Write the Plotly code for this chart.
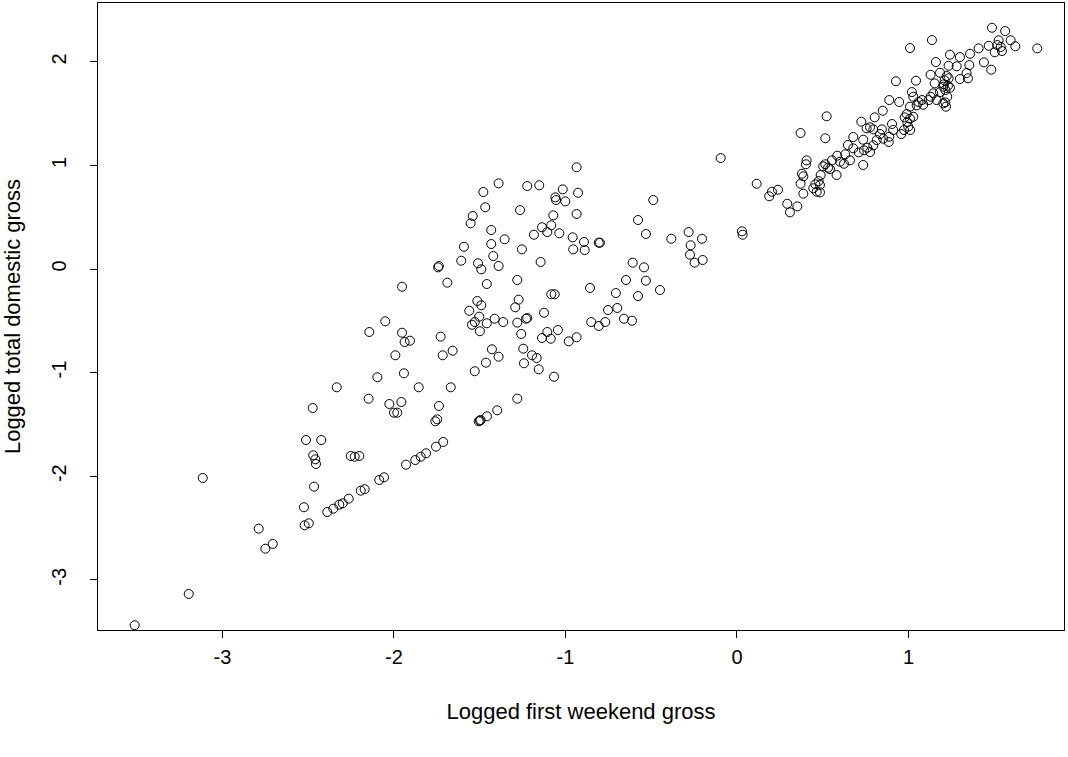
import plotly.graph_objects as go

first_weekend = [
    -3.512, -3.197, -3.115, -2.789, -2.750, -2.707, -2.525, -2.521, -2.497, -2.513,
    -2.424, -2.471, -2.459, -2.455, -2.466, -2.474, -2.334, -2.148, -2.027, -1.957,
    -2.000, -1.981, -1.856, -2.252, -2.229, -2.202, -1.930, -1.876, -1.844, -1.813,
    -2.389, -2.354, -2.319, -2.299, -2.264, -2.194, -2.171, -2.086, -2.058, -1.689,
    -1.953, -2.051, -2.144, -1.953, -1.938, -1.907, -1.728, -1.992, -1.716, -1.658,
    -2.097, -1.942, -1.669, -1.738, -1.748, -1.759, -1.743, -1.738, -1.713, -1.755,
    -0.935, -1.390, -1.223, -1.153, -1.479, -1.016, -0.927, -1.059, -1.055, -1.001,
    -1.468, -1.265, -0.935, -1.071, -1.541, -1.553, -1.137, -1.083, -1.106, -1.184,
    -1.036, -1.433, -1.355, -1.433, -1.592, -0.958, -0.892, -0.806, -0.799, -1.254,
    -0.955, -0.888, -1.421, -1.608, -1.510, -1.491, -1.390, -1.145, -1.281, -1.459,
    -0.857, -0.706, -1.083, -1.063, -1.514, -1.273, -1.491, -1.293, -1.561, -1.503,
    -1.545, -1.529, -1.499, -1.459, -1.413, -1.363, -1.281, -1.230, -1.223, -1.125,
    -1.258, -0.752, -0.698, -0.850, -0.806, -0.768, -1.106, -1.044, -1.137, -1.086,
    -0.981, -0.935, -1.429, -1.390, -1.464, -1.529, -1.246, -1.195, -1.168, -1.242,
    -1.156, -1.067, -1.281, -1.398, -1.458, -1.499, -1.506, -1.495, -0.095, -0.488,
    -0.577, -0.531, -0.383, -0.282, -0.204, -0.270, -0.274, -0.247, -0.200, 0.029,
    0.033, -0.608, -0.542, -0.647, -0.531, -0.449, -0.577, -0.659, -0.612, 0.115,
    0.239, 0.204, 0.188, 0.293, 0.352, 0.309, 0.523, 0.371, 0.515, 0.725,
    0.756, 0.678, 0.736, 0.647, 0.678, 0.710, 0.741, 0.760, 0.736, 0.406,
    0.402, 0.379, 0.387, 0.585, 0.601, 0.554, 0.515, 0.531, 0.503, 0.542,
    0.624, 0.581, 0.659, 0.631, 0.488, 0.476, 0.457, 0.484, 0.445, 0.465,
    0.484, 0.371, 0.387, 1.009, 1.137, 1.160, 1.184, 1.129, 1.223, 1.242,
    0.927, 1.044, 1.153, 1.203, 1.215, 1.184, 1.226, 1.145, 1.164, 1.203,
    1.219, 1.020, 1.028, 1.059, 1.086, 1.118, 1.129, 1.079, 1.048, 0.888,
    0.946, 0.850, 0.803, 1.009, 0.990, 0.978, 1.009, 1.028, 0.999, 1.010,
    0.974, 0.958, 0.993, 0.904, 0.911, 0.888, 0.885, 0.853, 0.834, 0.845,
    0.795, 0.776, 0.815, 0.795, 0.776, 1.487, 1.564, 1.751, 1.526, 1.596,
    1.623, 1.538, 1.503, 1.545, 1.518, 1.468, 1.409, 1.359, 1.300, 1.440,
    1.483, 1.355, 1.281, 1.234, 1.339, 1.347, 1.300, 1.234, 1.211, 1.230,
    1.242, 1.207, 1.215,
]

total_domestic = [
    -3.439, -3.137, -2.017, -2.507, -2.700, -2.654, -2.300, -2.474, -2.455, -1.651,
    -1.651, -1.798, -1.837, -1.882, -2.101, -1.342, -1.142, -1.252, -1.303, -1.284,
    -1.387, -1.387, -1.142, -1.805, -1.812, -1.805, -1.889, -1.844, -1.812, -1.779,
    -2.346, -2.314, -2.275, -2.262, -2.217, -2.140, -2.126, -2.037, -2.011, -0.132,
    -0.171, -0.505, -0.608, -0.615, -0.705, -0.692, -0.653, -0.833, -0.833, -0.789,
    -1.045, -1.007, -1.142, -1.322, -1.451, -1.470, 0.016, 0.029, -1.670, -1.715,
    0.982, 0.827, 0.801, 0.808, 0.743, 0.769, 0.736, 0.692, 0.666, 0.653,
    0.596, 0.569, 0.531, 0.518, 0.512, 0.441, 0.403, 0.422, 0.357, 0.331,
    0.345, 0.376, 0.287, 0.241, 0.215, 0.306, 0.261, 0.254, 0.254, 0.190,
    0.190, 0.183, 0.125, 0.080, 0.055, -0.003, 0.029, 0.068, -0.106, -0.145,
    -0.183, -0.232, -0.244, -0.244, -0.309, -0.296, -0.350, -0.370, -0.403, -0.460,
    -0.538, -0.512, -0.601, -0.524, -0.480, -0.512, -0.518, -0.480, -0.473, -0.422,
    -0.627, -0.396, -0.376, -0.512, -0.550, -0.512, -0.608, -0.589, -0.666, -0.673,
    -0.698, -0.659, -0.775, -0.847, -0.904, -0.987, -0.769, -0.833, -0.859, -0.910,
    -0.968, -1.040, -1.252, -1.364, -1.422, -1.464, -1.470, -1.458, 1.071, 0.666,
    0.473, 0.338, 0.292, 0.357, 0.292, 0.229, 0.138, 0.061, 0.087, 0.364,
    0.331, 0.061, 0.016, -0.106, -0.113, -0.203, -0.261, -0.480, -0.499, 0.823,
    0.765, 0.746, 0.702, 0.630, 0.605, 0.547, 1.474, 1.313, 1.262, 1.422,
    1.358, 1.274, 1.248, 1.197, 1.165, 1.126, 1.146, 1.171, 1.004, 1.049,
    1.011, 0.920, 0.895, 1.094, 1.036, 1.049, 1.011, 0.978, 0.991, 0.965,
    1.016, 0.907, 1.049, 1.107, 0.907, 0.849, 0.818, 0.811, 0.779, 0.746,
    0.740, 0.823, 0.727, 2.133, 2.210, 1.998, 1.895, 1.875, 1.863, 2.069,
    1.812, 1.818, 1.792, 1.760, 1.728, 1.708, 1.663, 1.696, 1.631, 1.599,
    1.567, 1.708, 1.663, 1.612, 1.586, 1.631, 1.663, 1.631, 1.580, 1.631,
    1.612, 1.528, 1.464, 1.567, 1.496, 1.464, 1.451, 1.470, 1.374, 1.342,
    1.342, 1.303, 1.419, 1.400, 1.342, 1.277, 1.226, 1.258, 1.303, 1.348,
    1.348, 1.368, 1.245, 1.194, 1.129, 2.329, 2.297, 2.130, 2.208, 2.208,
    2.150, 2.143, 2.092, 2.104, 2.162, 2.155, 2.130, 2.078, 2.046, 1.995,
    1.924, 1.969, 1.957, 1.962, 1.892, 1.841, 1.834, 1.841, 1.821, 1.769,
    1.750, 1.783, 1.609,
]

x_ticks = [-3, -2, -1, 0, 1]
x_tick_labels = ["-3", "-2", "-1", "0", "1"]
y_ticks = [-3, -2, -1, 0, 1, 2]
y_tick_labels = ["-3", "-2", "-1", "0", "1", "2"]

FONT = "Liberation Sans, Arial, Helvetica, sans-serif"
TICK_FS = 20
TITLE_FS = 22

fig = go.Figure(
    go.Scatter(
        x=first_weekend,
        y=total_domestic,
        mode="markers",
        marker=dict(symbol="circle-open", size=9, color="black",
                    line=dict(color="black", width=1)),
        showlegend=False,
        hoverinfo="x+y",
    )
)

axis_common = dict(
    showline=True, mirror=True, linecolor="black", linewidth=1,
    showgrid=False, zeroline=False, ticks="outside", ticklen=7,
    tickcolor="black", tickwidth=1,
    tickfont=dict(family=FONT, size=TICK_FS, color="black"),
)

fig.update_layout(
    template="none",
    width=1068, height=757,
    margin=dict(l=98, r=4, t=3, b=127),
    paper_bgcolor="white", plot_bgcolor="white",
    font=dict(family=FONT, size=TICK_FS, color="black"),
    xaxis=dict(
        range=[-3.726, 1.907],
        tickvals=x_ticks, ticktext=x_tick_labels,
        ticklabelstandoff=2,
        title=dict(text="Logged first weekend gross", standoff=36,
                   font=dict(family=FONT, size=TITLE_FS, color="black")),
        **axis_common,
    ),
    yaxis=dict(
        range=[-3.485, 2.568],
        tickvals=y_ticks, ticktext=y_tick_labels,
        tickangle=-90,
        ticklabelstandoff=16,
        title=dict(text="Logged total domestic gross", standoff=24,
                   font=dict(family=FONT, size=TITLE_FS, color="black")),
        **axis_common,
    ),
)

fig.write_html(
    "out.html",
    config={"displayModeBar": False},
    post_script="document.body.style.margin='0';document.body.style.overflow='hidden';",
)
